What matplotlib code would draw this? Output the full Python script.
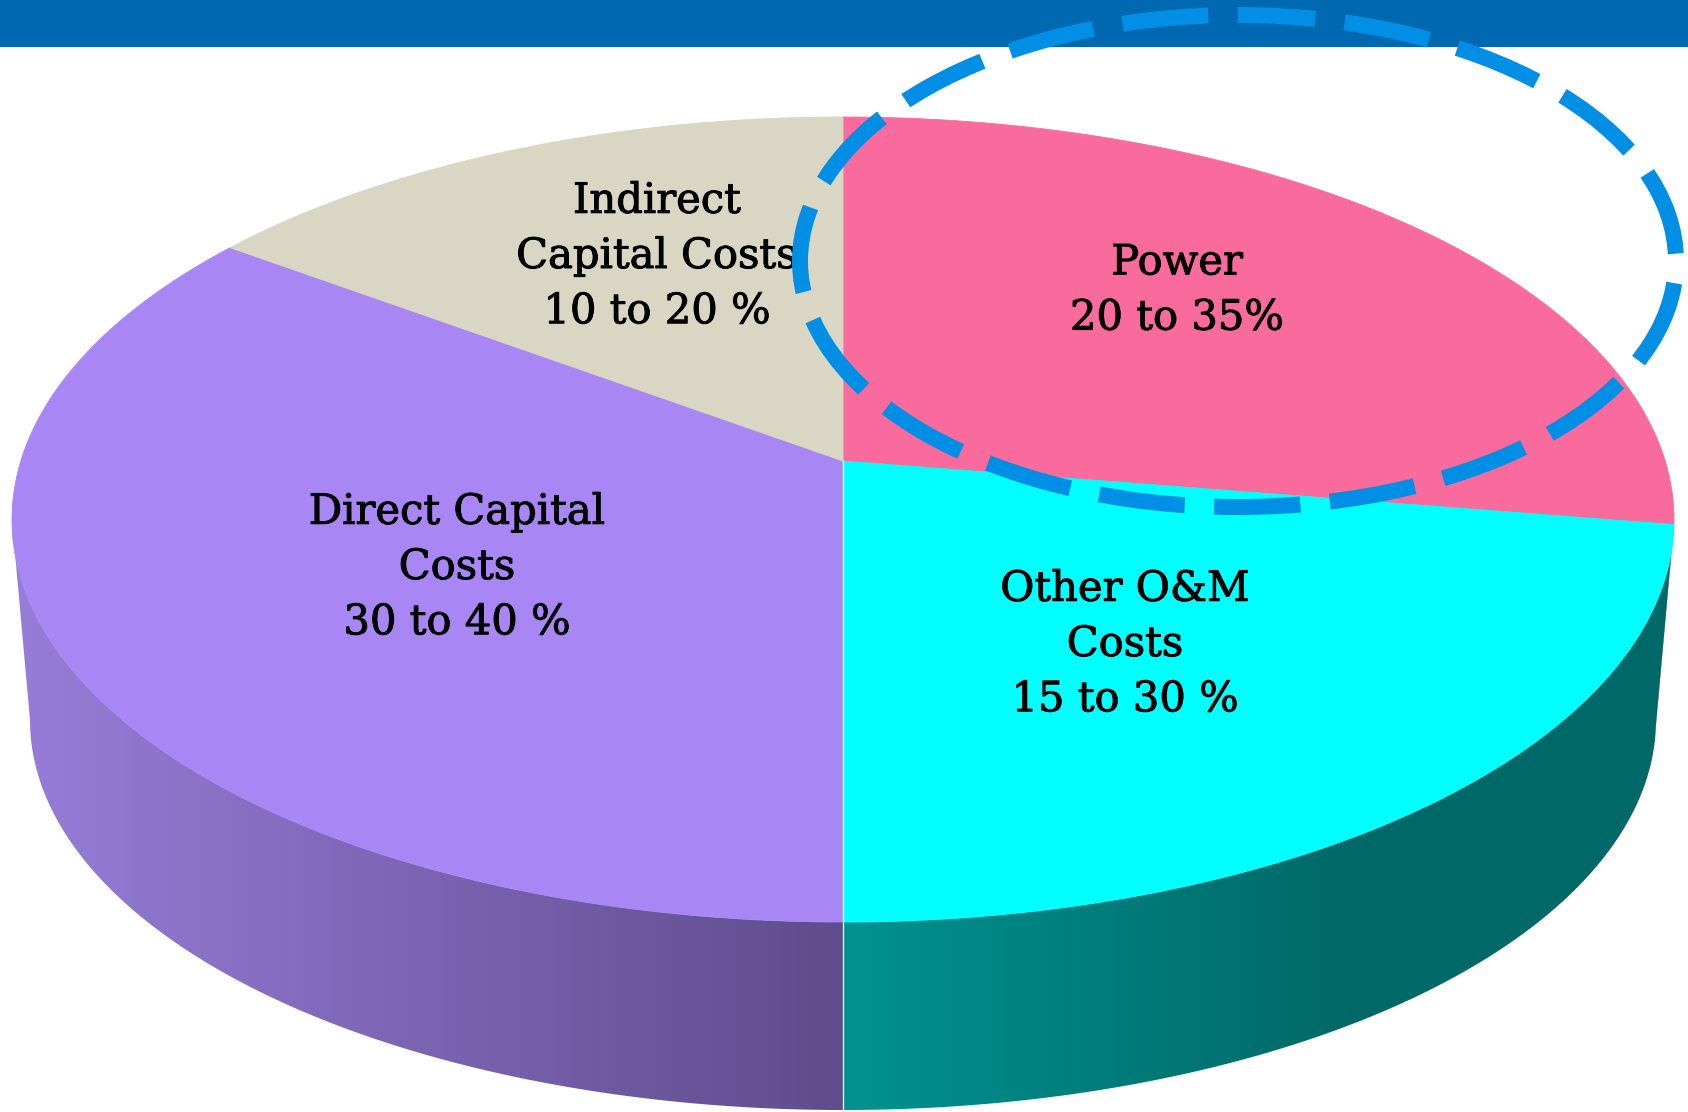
import matplotlib
matplotlib.use("Agg")
import matplotlib.pyplot as plt
import matplotlib.patheffects as pe
import numpy as np
from matplotlib.patches import Polygon, Ellipse, Rectangle
from matplotlib.colors import LinearSegmentedColormap

# slices, clockwise from 12 o'clock
categories = ["Power", "Other O&M Costs", "Direct Capital Costs", "Indirect Capital Costs"]
labels = ["Power\n20 to 35%", "Other O&M\nCosts\n15 to 30 %",
          "Direct Capital\nCosts\n30 to 40 %", "Indirect\nCapital Costs\n10 to 20 %"]
shares = [25.2, 24.8, 36.8, 13.2]

top_colors = ["#F96B9C", "#00FFFF", "#A887F5", "#D9D6C3"]
side_colors = [("#C04C76", "#A03A60"), ("#009290", "#006866"),
               ("#977DD8", "#5F4C8C"), ("#A8A592", "#8C8A78")]
label_pos = [(1177, 290), (1125, 644), (457, 567), (657, 256)]

# geometry of the pie (pixel coords, y down)
CX, CY, RX, RY = 843, 519.5, 831, 402.5
CYB, RXB, RYB = 720, 813, 390
APEX = (843, 461)

fig = plt.figure(figsize=(16.88, 11.12), dpi=100)
ax = fig.add_axes([0, 0, 1, 1])
ax.set_xlim(0, 1688)
ax.set_ylim(1112, 0)
ax.axis("off")


def top_pt(t):
    return CX + RX * np.cos(t), CY - RY * np.sin(t)


def bot_pt(t):
    return CX + RXB * np.cos(t), CYB - RYB * np.sin(t)


# angles of slice edges (degrees, clockwise from top)
edges = 90 - 360 * np.cumsum([0] + shares) / np.sum(shares)

# side walls (front half only: t in [-180, 0])
for i in range(len(shares)):
    a0, a1 = edges[i], edges[i + 1]
    hi, lo = min(a0, 0), max(a1, -180)
    if hi <= lo:
        continue
    t = np.radians(np.linspace(hi, lo, 200))
    tx, ty = top_pt(t)
    bx, by = bot_pt(t[::-1])
    xs = np.concatenate([tx, bx])
    ys = np.concatenate([ty, by])
    poly = Polygon(np.column_stack([xs, ys]), closed=True, fc="none", ec="none")
    ax.add_patch(poly)
    c_left, c_right = side_colors[i]
    cmap = LinearSegmentedColormap.from_list("s%d" % i, [c_left, c_right])
    x0, x1 = xs.min(), xs.max()
    grad = np.linspace(0, 1, 256)
    if i == 1:
        grad = np.clip(grad * 1.6, 0, 1)
    img = ax.imshow(grad[None, :], cmap=cmap, aspect="auto",
                    extent=[x0, x1, ys.max(), ys.min()], zorder=1)
    img.set_clip_path(poly)

# top face
for i in range(len(shares)):
    t = np.radians(np.linspace(edges[i], edges[i + 1], 200))
    tx, ty = top_pt(t)
    xs = np.concatenate([[APEX[0]], tx])
    ys = np.concatenate([[APEX[1]], ty])
    ax.add_patch(Polygon(np.column_stack([xs, ys]), closed=True,
                         fc=top_colors[i], ec=top_colors[i], lw=0.6, zorder=2))

# thin light seam between the two front slices
ax.plot([APEX[0], APEX[0]], [APEX[1], 1112], color="#D8F4FF", lw=1.0, zorder=3)

for lab, (x, y) in zip(labels, label_pos):
    ax.text(x, y, lab, ha="center", va="center", fontsize=30,
            family="DejaVu Serif", color="black", linespacing=1.4, zorder=4,
            path_effects=[pe.withStroke(linewidth=0.7, foreground="black")])

# header bar and highlight ring
ax.add_patch(Rectangle((0, 0), 1688, 47, fc="#0068B0", ec="none", zorder=5))
ax.add_patch(Ellipse((1238, 261), 2 * 438, 2 * 246, fill=False, ec="#008FE4",
                     lw=11.5, linestyle=(0.56, (5.4, 1.85)), zorder=6))

fig.savefig("out.png", dpi=100)
